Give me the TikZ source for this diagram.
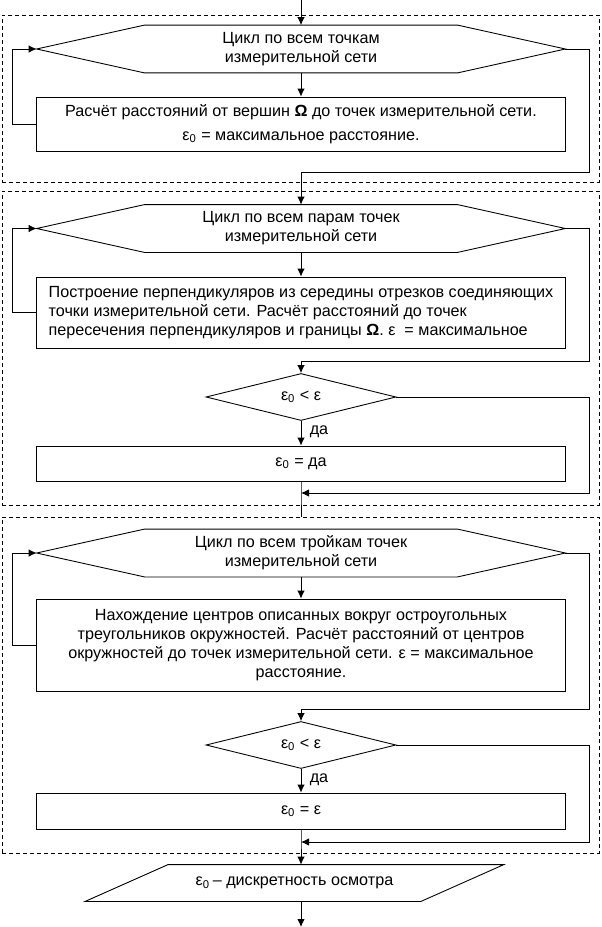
\documentclass[tikz,border=0pt]{standalone}
\usepackage{fontspec}
\setmainfont{Liberation Sans}
\usetikzlibrary{arrows.meta,shapes.geometric,calc,positioning}
\tikzset{loopbox/.style={draw=none, minimum width=10.56cm, minimum height=0.94cm, inner sep=0, align=center}}
\tikzset{procbox/.style={draw, minimum width=10.58cm, inner sep=0.5mm, align=center}}
\tikzset{testbox/.style={draw, diamond, aspect=4, minimum width=3.8cm, minimum height=0.94cm, inner sep=0}}
\tikzset{iobox/.style={draw=none, minimum width=6.7cm, minimum height=0.72cm, inner sep=0}}
\tikzset{grpbox/.style={draw, dash pattern=on 0.8mm off 0.6mm, minimum width=11.94cm, inner sep=0}}
\tikzset{
  edgeflow/.style={black, -{Latex[length=1.6mm,width=1.5mm]}},
  edgeplain/.style={black, -}
}
\newcommand\hexoutline[1]{\draw (#1.west) -- ([xshift=2.16cm]#1.north west)
  -- ([xshift=-2.16cm]#1.north east) -- (#1.east)
  -- ([xshift=-2.16cm]#1.south east) -- ([xshift=2.16cm]#1.south west) -- cycle;}
\newcommand\epszero{ε\textsubscript{0}}

\begin{document}
\begin{tikzpicture}[x=0.02cm, y=-0.02cm, line width=0.5pt,
  font=\fontsize{9.2}{10.8}\selectfont]
\useasboundingbox (0,0) rectangle (602,927);

% dashed groups
\node[grpbox, minimum height=3.34cm](grp1) at (300.5,98.5) {};
\node[grpbox, minimum height=6.28cm](grp2) at (300.5,348) {};
\node[grpbox, minimum height=6.72cm](grp3) at (300.5,685) {};

% first loop
\coordinate (start) at (301,0);
\node[loopbox](hex1) at (301,49)
{Цикл по всем точкам\\измерительной сети};
\hexoutline{hex1}

\node[procbox, minimum height=1.08cm](calc1) at (301,124)
{Расчёт расстояний от вершин \textbf{Ω} до точек измерительной сети.\\[1mm]
\epszero{} = максимальное расстояние.};

\coordinate (j1) at (301,172);

\draw[edgeflow] (start) -- (hex1.north);
\draw[edgeflow] (hex1.south) -- (calc1.north);
\draw[edgeflow] (calc1.west) -- ++(-24,0) |- (hex1.west);

% second loop
\node[loopbox](hex2) at (301,228.5)
{Цикл по всем парам точек\\измерительной сети};
\hexoutline{hex2}

\node[procbox, minimum height=1.42cm, align=left](calc2) at (301,312.5)
{Построение перпендикуляров из середины отрезков соединяющих\\
точки измерительной сети. Расчёт расстояний до точек\\
пересечения перпендикуляров и границы \textbf{Ω}. ε~ = максимальное};

\coordinate (j2) at (301,361);

\node[testbox](test1) at (301,397) {\epszero{} < ε};

\node[procbox, minimum height=0.7cm](set1) at (301,463.5)
{\epszero{} = да};

\coordinate (m1) at (301,493);

\draw[edgeflow] (hex1.east) -- ++(24,0) |- (j1) -- (hex2.north);
\draw[edgeflow] (hex2.south) -- (calc2.north);
\draw[edgeflow] (calc2.west) -- ++(-24,0) |- (hex2.west);
\draw[edgeflow] (hex2.east) -- ++(24,0) |- (j2) -- (test1.north);
\draw[edgeflow] (test1.south) to
node[right, pos=0.45, xshift=0.5mm]{да} (set1.north);
\draw[edgeflow] (test1.east) -- ++(193,0) |- (m1);
\draw[edgeplain] (set1.south) -- (m1) -- (grp3.north -| m1);

% third loop
\node[loopbox](hex3) at (301,553)
{Цикл по всем тройкам точек\\измерительной сети};
\hexoutline{hex3}

\node[procbox, minimum height=1.84cm](calc3) at (301,645)
{Нахождение центров описанных вокруг остроугольных\\
треугольников окружностей. Расчёт расстояний от центров\\
окружностей до точек измерительной сети. ε = максимальное\\
расстояние.};

\coordinate (j3) at (301,709);

\node[testbox](test2) at (301,745) {\epszero{} < ε};

\node[procbox, minimum height=0.72cm](set2) at (301,811)
{\epszero{} = ε};

\coordinate (m2) at (301,842);

\draw[edgeflow] (hex3.south) -- (calc3.north);
\draw[edgeflow] (calc3.west) -- ++(-24,0) |- (hex3.west);
\draw[edgeflow] (hex3.east) -- ++(24,0) |- (j3) -- (test2.north);
\draw[edgeflow] (test2.south) to
node[right, pos=0.45, xshift=0.5mm]{да} (set2.north);
\draw[edgeflow] (test2.east) -- ++(193,0) |- (m2);

% output
\node[iobox](outp) at (294.5,883) {\epszero\,– дискретность осмотра};
\draw ([xshift=-0.83cm]outp.south west) -- ([xshift=0.83cm]outp.north west)
  -- ([xshift=0.83cm]outp.north east) -- ([xshift=-0.83cm]outp.south east) -- cycle;

\coordinate (finish) at (301,927);

\draw[edgeflow] (set2.south) -- (m2) -- (outp.north -| m2);
\draw[edgeflow] (outp.south -| finish) -- (finish);
\end{tikzpicture}
\end{document}
